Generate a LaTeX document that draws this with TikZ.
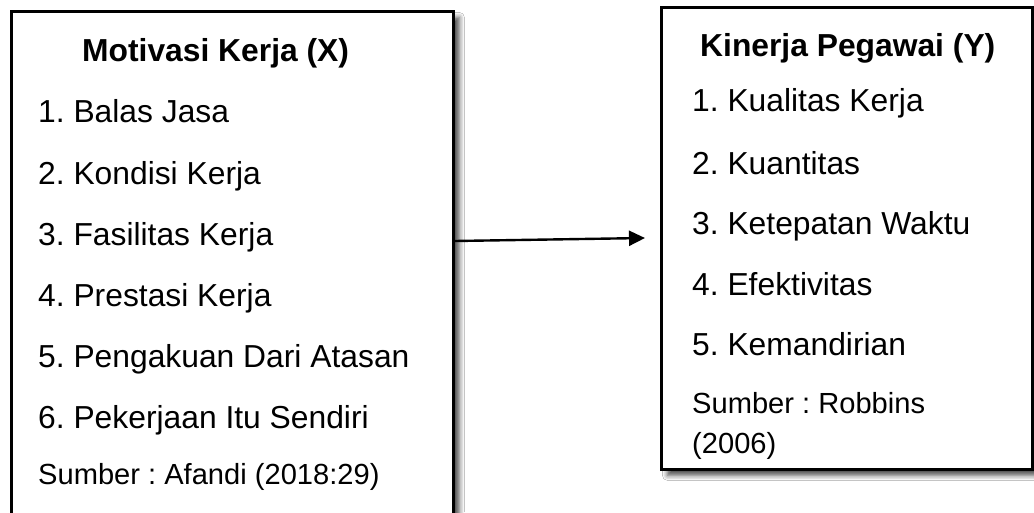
\documentclass[tikz,border=0pt]{standalone}
\usepackage{fontspec}
\setmainfont{Liberation Sans}
\frenchspacing
\usetikzlibrary{shadows.blur,arrows.meta}
\begin{document}
\begin{tikzpicture}[x=1pt,y=-1pt,
  varbox/.style={draw=black, line width=2.8pt, fill=white, rectangle, anchor=north west, inner sep=0pt,
    blur shadow={shadow xshift=6pt, shadow yshift=-6pt, shadow blur radius=5pt, shadow opacity=70}},
  ttl/.style={anchor=base west, inner sep=0pt, font=\fontsize{31.8}{38}\selectfont\bfseries},
  itm/.style={anchor=base west, inner sep=0pt, font=\fontsize{31.8}{38}\selectfont},
  src/.style={anchor=base west, inner sep=0pt, font=\fontsize{29.1}{35}\selectfont},
  arr/.style={line width=2.4pt, -{Triangle[length=16pt,width=15pt]}}]
\useasboundingbox (0,0) rectangle (1034,512);
\clip (0,0) rectangle (1034,512);
\fill[white] (0,0) rectangle (1034,512);
% boxes
\node[varbox, minimum width=442pt, minimum height=530pt] (X) at (10,10) {};
\node[varbox, minimum width=371pt, minimum height=462pt] (Y) at (660,6) {};
% left texts
\node[ttl] (xt) at (82,61.4) {Motivasi Kerja (X)};
\node[itm] (x1) at (38,122.4) {1. Balas Jasa};
\node[itm] (x2) at (38,184.4) {2. Kondisi Kerja};
\node[itm] (x3) at (38,245.4) {3. Fasilitas Kerja};
\node[itm] (x4) at (38,306.4) {4. Prestasi Kerja};
\node[itm] (x5) at (38,367.4) {5. Pengakuan Dari Atasan};
\node[itm] (x6) at (38,428.4) {6. Pekerjaan Itu Sendiri};
\node[src] (xs) at (38,484.4) {Sumber : Afandi (2018:29)};
% right texts
\node[ttl] (yt) at (700,56.4) {Kinerja Pegawai (Y)};
\node[itm] (y1) at (692,111.4) {1. Kualitas Kerja};
\node[itm] (y2) at (692,174.4) {2. Kuantitas};
\node[itm] (y3) at (692,234.4) {3. Ketepatan Waktu};
\node[itm] (y4) at (692,295.4) {4. Efektivitas};
\node[itm] (y5) at (692,355.4) {5. Kemandirian};
\node[src] (ys) at (692,413.4) {Sumber : Robbins};
\node[src] (ys2) at (692,453.4) {(2006)};
% arrow
\path (X.north east) ++(0,231) coordinate (as);
\path (Y.north west) ++(-15,232) coordinate (ae);
\draw[arr] (as) -- (ae);
\end{tikzpicture}
\end{document}
